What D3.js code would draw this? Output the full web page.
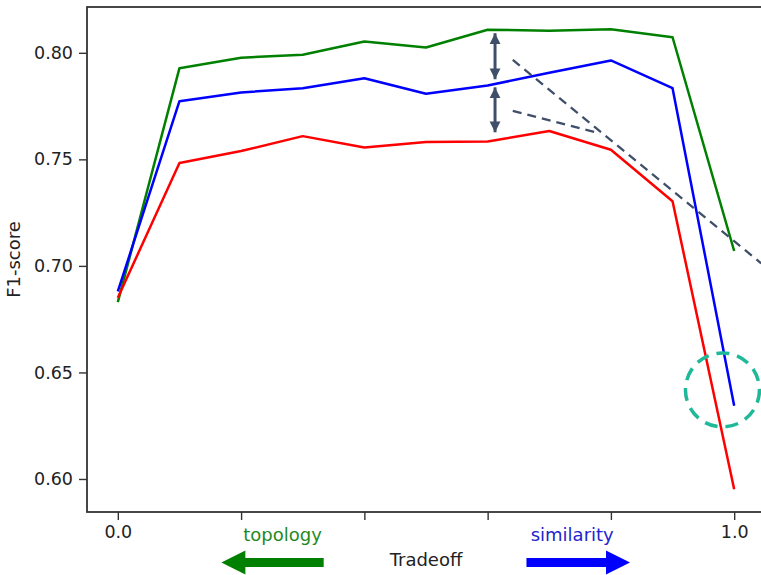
<!DOCTYPE html>
<html>
<head>
<meta charset="utf-8">
<script src="https://cdn.jsdelivr.net/npm/d3@7"></script>
<style>
  html, body { margin: 0; padding: 0; background: #fff; overflow: hidden; }
  svg { display: block; font-family: "DejaVu Sans", sans-serif; }
</style>
</head>
<body>
<div id="chart"></div>
<script>
// tradeoff values (x) and F1-score per series
var tradeoff = [0.0, 0.1, 0.2, 0.3, 0.4, 0.5, 0.6, 0.7, 0.8, 0.9, 1.0]
var greenF1 = [0.683, 0.7928, 0.7977, 0.7991, 0.8053, 0.8025, 0.8108, 0.8104, 0.8111, 0.8073, 0.7070]
var blueF1  = [0.688, 0.7773, 0.7814, 0.7834, 0.7881, 0.7808, 0.7847, 0.7906, 0.7964, 0.7834, 0.6344]
var redF1   = [0.685, 0.7483, 0.7539, 0.7609, 0.7556, 0.7581, 0.7584, 0.7633, 0.7545, 0.7303, 0.5952]

var xTicks = [0.0, 0.2, 0.4, 0.6, 0.8, 1.0]
var xTickLabels = ["0.0", "", "", "", "", "1.0"]
var yTicks = [0.60, 0.65, 0.70, 0.75, 0.80]

// annotations (data coords)
var gapArrows = [[0.612, 0.8092, 0.7876], [0.612, 0.7838, 0.7627]]
var dashLines = [[0.6408, 0.7967, 1.0438, 0.7012], [0.6408, 0.7728, 0.7825, 0.7622]]
var circleMark = [0.981, 0.6418]
var topologyArrow = [0.334, 0.168]
var similarityArrow = [0.663, 0.831]

var width = 761, height = 575
var margin = { top: 7, right: -4, bottom: 63, left: 87 }

var svg = d3.select("#chart")
    .append("svg")
    .attr("width", width)
    .attr("height", height)

var x = d3.scaleLinear()
    .domain([-0.05, 1.05])
    .range([margin.left, width - margin.right])

var y = d3.scaleLinear()
    .domain([0.5845, 0.8215])
    .range([height - margin.bottom, margin.top])

var defs = svg.append("defs")
defs.append("marker")
    .attr("id", "head")
    .attr("viewBox", "0 0 10 10")
    .attr("refX", 10).attr("refY", 5)
    .attr("markerWidth", 3.6).attr("markerHeight", 4.6)
    .attr("markerUnits", "strokeWidth")
    .attr("orient", "auto-start-reverse")
    .append("path")
    .attr("d", "M0,0L10,5L0,10Z")
    .attr("fill", "#3f4f6a")

// series lines
var line = d3.line()
    .x(function (d) { return x(d[0]) })
    .y(function (d) { return y(d[1]) })

var series = [
    { values: greenF1, color: "#008000" },
    { values: blueF1, color: "#0000ff" },
    { values: redF1, color: "#ff0000" }
]

series.forEach(function (s) {
    svg.append("path")
        .datum(tradeoff.map(function (t, i) { return [t, s.values[i]] }))
        .attr("fill", "none")
        .attr("stroke", s.color)
        .attr("stroke-width", 2.5)
        .attr("stroke-linejoin", "round")
        .attr("d", line)
})

// dashed guide lines
svg.selectAll(".dash")
    .data(dashLines)
    .enter().append("line")
    .attr("x1", function (d) { return x(d[0]) })
    .attr("y1", function (d) { return y(d[1]) })
    .attr("x2", function (d) { return x(d[2]) })
    .attr("y2", function (d) { return y(d[3]) })
    .attr("stroke", "#3f4f6a")
    .attr("stroke-width", 2.3)
    .attr("stroke-dasharray", "9,6")

// double arrows showing the gaps
svg.selectAll(".gap")
    .data(gapArrows)
    .enter().append("line")
    .attr("x1", function (d) { return x(d[0]) })
    .attr("y1", function (d) { return y(d[1]) })
    .attr("x2", function (d) { return x(d[0]) })
    .attr("y2", function (d) { return y(d[2]) })
    .attr("stroke", "#3f4f6a")
    .attr("stroke-width", 3)
    .attr("marker-start", "url(#head)")
    .attr("marker-end", "url(#head)")

// dashed circle
svg.append("circle")
    .attr("cx", x(circleMark[0]))
    .attr("cy", y(circleMark[1]))
    .attr("r", 37)
    .attr("fill", "none")
    .attr("stroke", "#1fb898")
    .attr("stroke-width", 3.5)
    .attr("stroke-dasharray", "13,8")

// axes frame
svg.append("rect")
    .attr("x", margin.left)
    .attr("y", margin.top)
    .attr("width", width - margin.right - margin.left)
    .attr("height", height - margin.bottom - margin.top)
    .attr("fill", "none")
    .attr("stroke", "#333")
    .attr("stroke-width", 1.8)

var xAxis = d3.axisBottom(x)
    .tickValues(xTicks)
    .tickSize(8)
    .tickPadding(6)
    .tickFormat(function (d, i) { return xTickLabels[i] })

var yAxis = d3.axisLeft(y)
    .tickValues(yTicks)
    .tickSize(8)
    .tickPadding(6)
    .tickFormat(d3.format(".2f"))

var gx = svg.append("g")
    .attr("transform", "translate(0," + (height - margin.bottom) + ")")
    .call(xAxis)
var gy = svg.append("g")
    .attr("transform", "translate(" + margin.left + ",0)")
    .call(yAxis)

;[gx, gy].forEach(function (g) {
    g.select(".domain").remove()
    g.selectAll(".tick line").attr("stroke", "#333").attr("stroke-width", 1.4)
    g.selectAll(".tick text")
        .attr("fill", "#222")
        .style("font-size", "17.5px")
        .style("font-family", "DejaVu Sans, sans-serif")
})

// axis labels
svg.append("text")
    .attr("x", x(0.5))
    .attr("y", 566)
    .attr("text-anchor", "middle")
    .attr("fill", "#222")
    .style("font-size", "18px")
    .text("Tradeoff")

svg.append("text")
    .attr("transform", "translate(20," + y((0.5845 + 0.8215) / 2) + ") rotate(-90)")
    .attr("text-anchor", "middle")
    .attr("fill", "#222")
    .style("font-size", "18px")
    .text("F1-score")

// direction hints under the axis
svg.append("text")
    .attr("x", (x(topologyArrow[0]) + x(topologyArrow[1])) / 2 + 10)
    .attr("y", 541)
    .attr("text-anchor", "middle")
    .attr("fill", "#1f8a1f")
    .style("font-size", "18px")
    .text("topology")

svg.append("text")
    .attr("x", (x(similarityArrow[0]) + x(similarityArrow[1])) / 2 - 6)
    .attr("y", 541)
    .attr("text-anchor", "middle")
    .attr("fill", "#2323d0")
    .style("font-size", "18px")
    .text("similarity")

function bigArrow(from, to, color) {
    var x0 = x(from), x1 = x(to), yc = 562.5
    var dir = x1 > x0 ? 1 : -1
    var headLen = 24, shaft = 4.5, head = 12
    var xb = x1 - dir * headLen
    var pts = [[x0, yc - shaft], [xb, yc - shaft], [xb, yc - head], [x1, yc],
               [xb, yc + head], [xb, yc + shaft], [x0, yc + shaft]]
    svg.append("path")
        .attr("d", d3.line()(pts) + "Z")
        .attr("fill", color)
}
bigArrow(topologyArrow[0], topologyArrow[1], "#008000")
bigArrow(similarityArrow[0], similarityArrow[1], "#0000ff")
</script>
</body>
</html>
